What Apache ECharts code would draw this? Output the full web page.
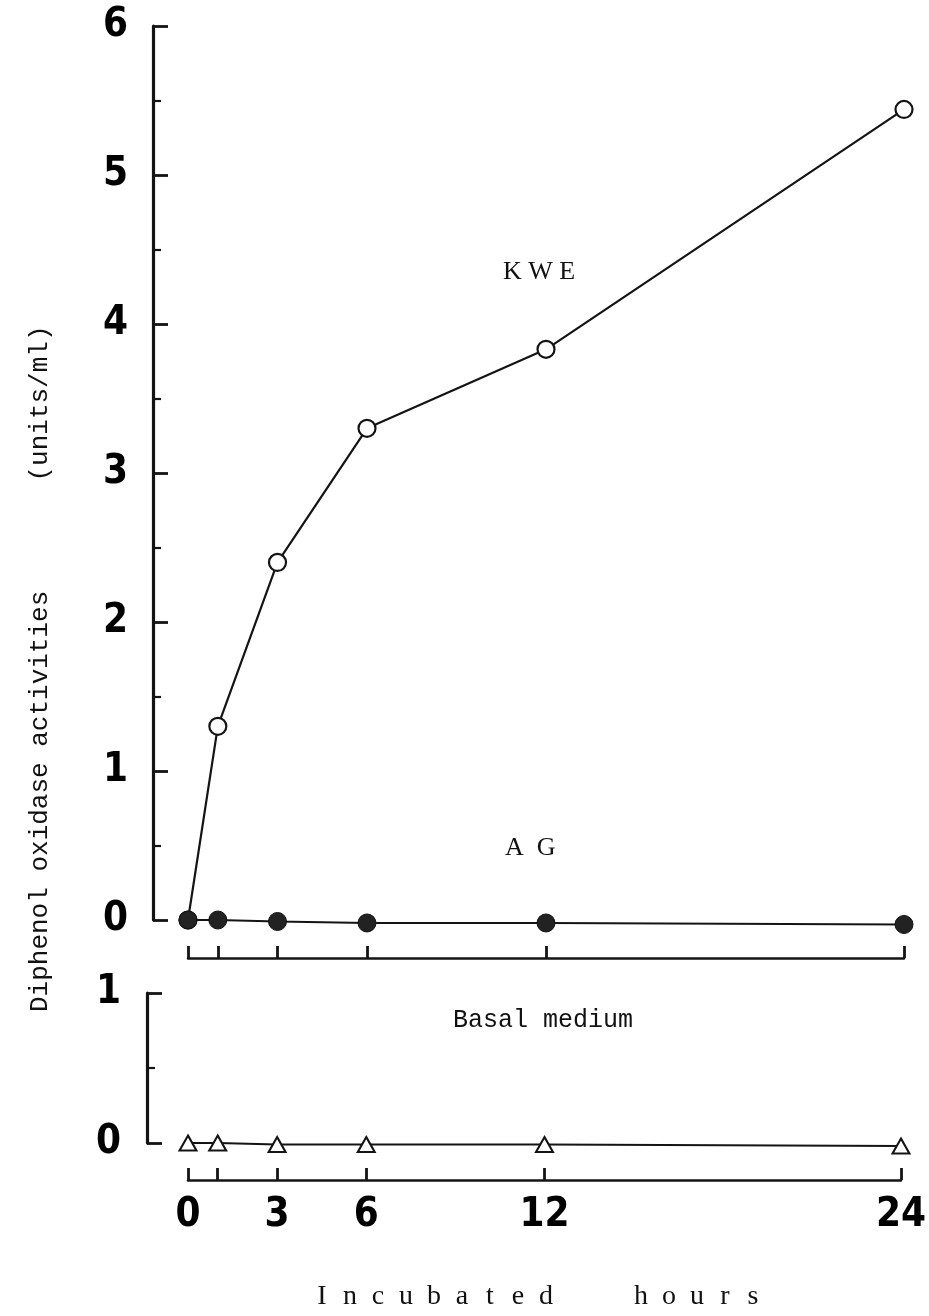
<!DOCTYPE html>
<html>
<head>
<meta charset="utf-8">
<script src="https://cdn.jsdelivr.net/npm/echarts@6/dist/echarts.min.js"></script>
<style>
  html, body { margin: 0; padding: 0; background: #fff; }
  #chart { width: 929px; height: 1316px; }
</style>
</head>
<body>
<div id="chart"></div>
<script>
// Incubation time (h) and diphenol oxidase activity (units/ml)
const hours = [0, 1, 3, 6, 12, 24];
const kweActivity = [0, 1.30, 2.40, 3.30, 3.83, 5.44];
const agActivity = [0, 0, -0.01, -0.02, -0.02, -0.03];
const basalActivity = [0, 0, -0.01, -0.01, -0.01, -0.02];

const hourTicks = [0, 1, 3, 6, 12, 24];
const hourLabels = [0, 3, 6, 12, 24];

const seriesNames = ['KWE', 'AG', 'Basal medium'];
const yTitle = 'Diphenol oxidase activities       (units/ml)';
const xTitleWords = ['Incubated', 'hours'];

const INK = '#141414';
const numFont = '"Liberation Sans Narrow", "DejaVu Sans Condensed", sans-serif';
const serifFont = '"Liberation Serif", "DejaVu Serif", serif';

function pairs(ys) { return hours.map((h, i) => [h, ys[i]]); }
function spaced(word, gap) { return word.split('').join(gap); }

// Letter-spaced axis title, one glyph per text element
function spacedTitle(words, starts, pitch, y) {
  const out = [];
  words.forEach((w, wi) => {
    w.split('').forEach((ch, ci) => {
      out.push({
        type: 'text', x: starts[wi] + ci * pitch, y: y,
        style: { text: ch, font: '28px ' + serifFont, fill: '#111', align: 'center', verticalAlign: 'middle' }
      });
    });
  });
  return out;
}

const chart = echarts.init(document.getElementById('chart'), null, { renderer: 'canvas' });

const xAxisCommon = {
  type: 'value', min: 0, max: 24,
  axisLine: { show: true, onZero: false, lineStyle: { color: INK, width: 2.5 } },
  axisTick: { show: true, inside: true, length: 12, customValues: hourTicks, lineStyle: { color: INK, width: 2.8 } },
  splitLine: { show: false },
  minorTick: { show: false }
};

const yAxisCommon = {
  type: 'value', interval: 1,
  axisLine: { show: true, onZero: false, lineStyle: { color: INK, width: 3.2 } },
  axisTick: { show: true, inside: true, length: 15, lineStyle: { color: INK, width: 2.8 } },
  minorTick: { show: true, splitNumber: 2, length: 8, lineStyle: { color: INK, width: 2.2 } },
  splitLine: { show: false },
  axisLabel: { color: '#000', fontFamily: numFont, fontWeight: 'bold', fontSize: 40, margin: 25 }
};

const option = {
  backgroundColor: '#ffffff',
  animation: false,
  grid: [
    { left: 188, right: 25, top: 26, height: 894 },
    { left: 188, right: 25, top: 993, height: 150 }
  ],
  xAxis: [
    Object.assign({}, xAxisCommon, { gridIndex: 0, offset: 38, axisLabel: { show: false } }),
    Object.assign({}, xAxisCommon, {
      gridIndex: 1, offset: 37,
      axisLabel: { show: true, customValues: hourLabels, color: '#000', fontFamily: numFont, fontWeight: 'bold', fontSize: 40, margin: 16 }
    })
  ],
  yAxis: [
    Object.assign({}, yAxisCommon, { gridIndex: 0, min: 0, max: 6, offset: 35 }),
    Object.assign({}, yAxisCommon, {
      gridIndex: 1, min: 0, max: 1, offset: 41,
      axisLabel: Object.assign({}, yAxisCommon.axisLabel, { margin: 26 })
    })
  ],
  series: [
    {
      name: seriesNames[0], type: 'line', xAxisIndex: 0, yAxisIndex: 0,
      data: pairs(kweActivity), clip: false, z: 3,
      symbol: 'circle', symbolSize: 17,
      lineStyle: { color: INK, width: 2.2 },
      itemStyle: { color: '#ffffff', borderColor: INK, borderWidth: 2.2 }
    },
    {
      name: seriesNames[1], type: 'line', xAxisIndex: 0, yAxisIndex: 0,
      data: pairs(agActivity), clip: false, z: 4,
      symbol: 'circle', symbolSize: 18,
      lineStyle: { color: INK, width: 2 },
      itemStyle: { color: '#222222', borderColor: '#111', borderWidth: 1 }
    },
    {
      name: seriesNames[2], type: 'line', xAxisIndex: 1, yAxisIndex: 1,
      data: pairs(basalActivity), clip: false, z: 3,
      symbol: 'triangle', symbolSize: [17, 15],
      lineStyle: { color: INK, width: 2 },
      itemStyle: { color: '#ffffff', borderColor: INK, borderWidth: 2 }
    }
  ],
  graphic: [
    {
      type: 'text', left: 503, top: 259,
      style: { text: spaced('KWE', ' '), font: '26px ' + serifFont, fill: '#111' }
    },
    {
      type: 'text', left: 505, top: 835,
      style: { text: spaced('AG', '\u2002'), font: '26px ' + serifFont, fill: '#111' }
    },
    {
      type: 'text', left: 453, top: 1008,
      style: { text: seriesNames[2], font: '25px "Liberation Mono", "DejaVu Sans Mono", monospace', fill: '#111' }
    },
    {
      type: 'text', x: 40, y: 1012, rotation: Math.PI / 2,
      style: { text: yTitle, font: '26px "Liberation Mono", "DejaVu Sans Mono", monospace', fill: '#111', verticalAlign: 'middle', align: 'left' }
    }
  ].concat(spacedTitle(xTitleWords, [322, 641], 28, 1297))
};

chart.setOption(option);
</script>
</body>
</html>
